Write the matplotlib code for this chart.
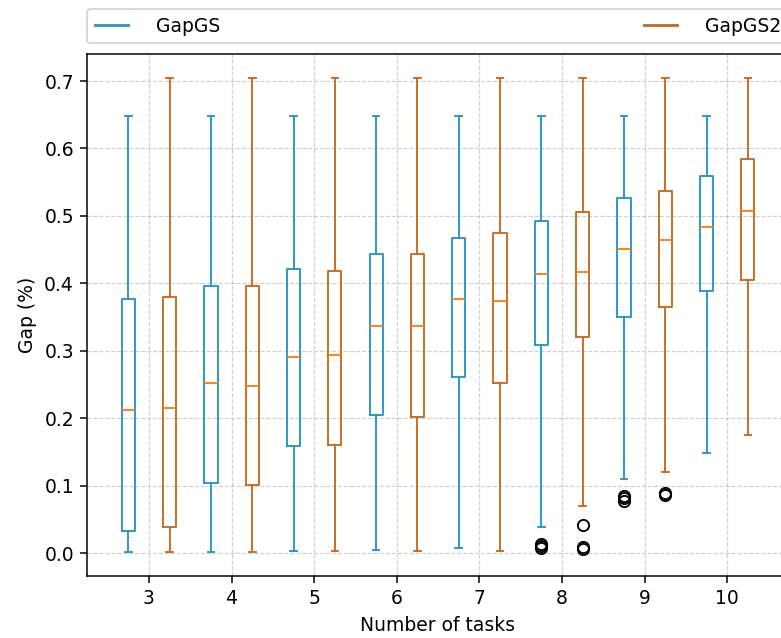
import matplotlib.pyplot as plt
from matplotlib.lines import Line2D

plt.close('all')

tasks = [3, 4, 5, 6, 7, 8, 9, 10]

# GapGS box statistics per number of tasks
gs_q1 = [0.032, 0.103, 0.158, 0.204, 0.261, 0.308, 0.350, 0.388]
gs_med = [0.212, 0.252, 0.290, 0.336, 0.376, 0.413, 0.451, 0.484]
gs_q3 = [0.377, 0.396, 0.421, 0.444, 0.467, 0.493, 0.526, 0.559]
gs_lo = [0.001, 0.001, 0.003, 0.005, 0.007, 0.039, 0.110, 0.148]
gs_hi = [0.648, 0.648, 0.648, 0.648, 0.648, 0.648, 0.648, 0.648]
gs_fliers = [[], [], [], [], [], [0.008, 0.010, 0.013], [0.077, 0.081, 0.085], []]

# GapGS2 box statistics per number of tasks
gs2_q1 = [0.039, 0.101, 0.160, 0.202, 0.252, 0.321, 0.365, 0.405]
gs2_med = [0.215, 0.248, 0.293, 0.336, 0.373, 0.416, 0.464, 0.507]
gs2_q3 = [0.379, 0.396, 0.418, 0.444, 0.474, 0.505, 0.537, 0.585]
gs2_lo = [0.001, 0.001, 0.003, 0.003, 0.003, 0.070, 0.120, 0.175]
gs2_hi = [0.705, 0.705, 0.705, 0.705, 0.705, 0.705, 0.705, 0.705]
gs2_fliers = [[], [], [], [], [], [0.006, 0.009, 0.041], [0.086, 0.089], []]

blue = '#2596c4'
orange = '#c66a1f'


def make_stats(q1, med, q3, lo, hi, fliers):
    return [dict(q1=a, med=b, q3=c, whislo=d, whishi=e, fliers=f)
            for a, b, c, d, e, f in zip(q1, med, q3, lo, hi, fliers)]


fig = plt.figure(figsize=(5.786, 4.727), dpi=135)
ax = fig.add_axes([87/781, 62/638, 702/781, 522/638])

w = 0.16
for stats, off, col in [
        (make_stats(gs_q1, gs_med, gs_q3, gs_lo, gs_hi, gs_fliers), -0.25, blue),
        (make_stats(gs2_q1, gs2_med, gs2_q3, gs2_lo, gs2_hi, gs2_fliers), 0.25, orange)]:
    ax.bxp(stats, positions=[t + off for t in tasks], widths=w,
           manage_ticks=False,
           boxprops=dict(color=col, linewidth=1.0),
           whiskerprops=dict(color=col, linewidth=1.0),
           capprops=dict(color=col, linewidth=1.0),
           medianprops=dict(color='C1', linewidth=1.0),
           flierprops=dict(marker='o', markeredgecolor='black', markerfacecolor='none'))

ax.set_xticks(tasks)
ax.set_xlim(2.25, 10.75)
ax.set_xlabel('Number of tasks')
ax.set_ylabel('Gap (%)')
ax.grid(True, linestyle='--', linewidth=0.6, alpha=0.6)

handles = [Line2D([], [], color=blue, linewidth=1.5),
           Line2D([], [], color=orange, linewidth=1.5)]
ax.legend(handles, ['GapGS', 'GapGS2'], bbox_to_anchor=(0, 1.02, 1, 0.102),
          loc='lower left', ncol=2, mode='expand', borderaxespad=0,
          handlelength=1.8, handletextpad=1.5)

fig.savefig('out.png', dpi=135)
